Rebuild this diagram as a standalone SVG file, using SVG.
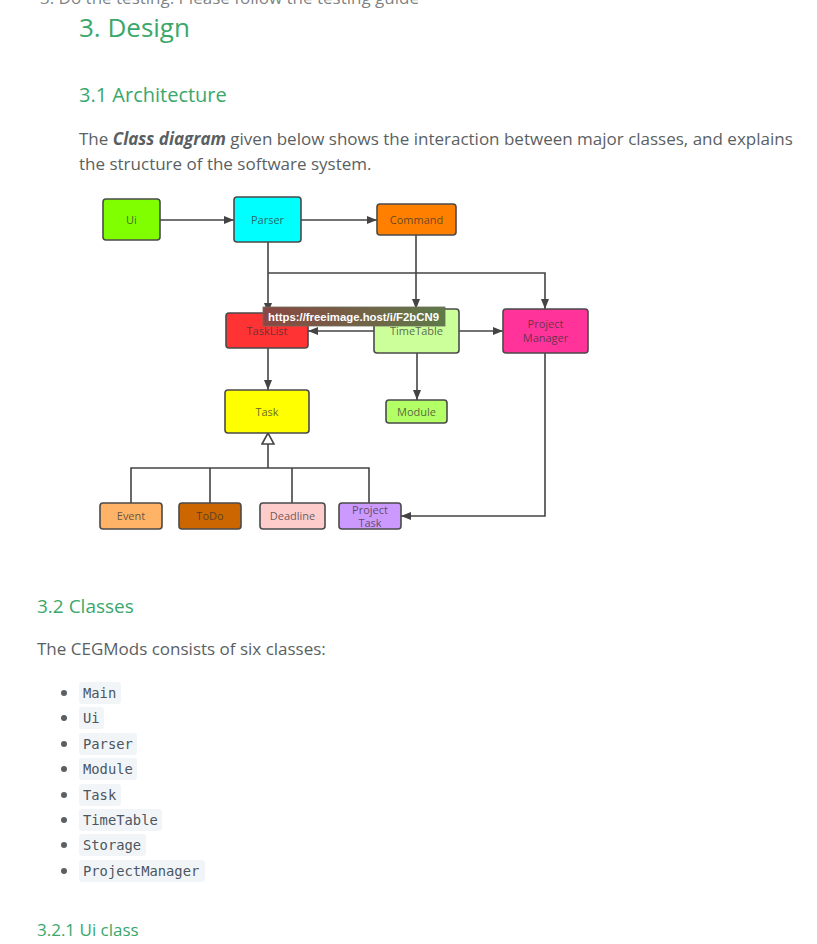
<svg xmlns="http://www.w3.org/2000/svg" width="817" height="944" viewBox="0 0 817 944">
<defs>
<style>
.h{font-family:"Open Sans","Noto Sans",sans-serif;fill:#3aa76b}
.p{font-family:"Open Sans","Noto Sans",sans-serif;fill:#5a5f63;font-size:17px}
.n rect{stroke:#4a4a4a;stroke-width:1.6}
.n text{font-family:"Open Sans","Noto Sans",sans-serif;font-size:11px;fill:#333;fill-opacity:0.75;text-anchor:middle}
.c{fill:none;stroke:#444;stroke-width:1.6}
.code rect{fill:#f2f5f8}
.code text{font-family:"DejaVu Sans Mono","Liberation Mono",monospace;font-size:13.8px;fill:#4c5660}
.b{fill:#5a5f63}
</style>
<marker id="ar" viewBox="0 0 10 10" refX="10" refY="5" markerWidth="10" markerHeight="10" markerUnits="userSpaceOnUse" orient="auto">
<path d="M0,1 L10,5 L0,9 Z" fill="#444"/>
</marker>
<marker id="tri" viewBox="0 0 12 14" refX="12" refY="7" markerWidth="12" markerHeight="14" markerUnits="userSpaceOnUse" orient="auto">
<path d="M1,1 L12,7 L1,13 Z" fill="#fff" stroke="#444" stroke-width="1.6"/>
</marker>
<linearGradient id="tip" x1="0" y1="0" x2="1" y2="0">
<stop offset="0" stop-color="#8a4743"/>
<stop offset="1" stop-color="#5e7b48"/>
</linearGradient>
</defs>
<rect width="817" height="944" fill="#fff"/>
<text class="p" x="40" y="4" fill-opacity="0.8">3. Do the testing. Please follow the testing guide</text>
<text class="h" x="79" y="37" font-size="26">3. Design</text>
<text class="h" x="79" y="102" font-size="20">3.1 Architecture</text>
<text class="p" x="79" y="145">The <tspan font-weight="bold" font-style="italic">Class diagram</tspan> given below shows the interaction between major classes, and explains</text>
<text class="p" x="79" y="170">the structure of the software system.</text>

<g id="connectors">
<path class="c" d="M160,220 H234" marker-end="url(#ar)"/>
<path class="c" d="M301,220 H377" marker-end="url(#ar)"/>
<path class="c" d="M268,242 V313" marker-end="url(#ar)"/>
<path class="c" d="M268,273 H545 V309" marker-end="url(#ar)"/>
<path class="c" d="M416,235 V309" marker-end="url(#ar)"/>
<path class="c" d="M374,331 H308" marker-end="url(#ar)"/>
<path class="c" d="M459,331 H503" marker-end="url(#ar)"/>
<path class="c" d="M268,348 V390" marker-end="url(#ar)"/>
<path class="c" d="M417,353 V400" marker-end="url(#ar)"/>
<path class="c" d="M545,353 V516 H401" marker-end="url(#ar)"/>
<path class="c" d="M131,503 V468 H369 V503 M210,468 V503 M292,468 V503"/>
<path class="c" d="M268,468 V433" marker-end="url(#tri)"/>
</g>

<g id="Ui" class="n"><rect x="103" y="199" width="57" height="41" rx="3" fill="#80ff00"/><text x="131.5" y="224">Ui</text></g>
<g id="Parser" class="n"><rect x="234" y="197" width="67" height="45" rx="3" fill="#00ffff"/><text x="267.5" y="224">Parser</text></g>
<g id="Command" class="n"><rect x="377" y="204" width="79" height="31" rx="3" fill="#ff8000"/><text x="416.5" y="224">Command</text></g>
<g id="TaskList" class="n"><rect x="226" y="313" width="82" height="35" rx="3" fill="#ff3333"/><text x="267" y="335">TaskList</text></g>
<g id="TimeTable" class="n"><rect x="374" y="309" width="85" height="44" rx="3" fill="#ccff99"/><text x="416.5" y="335">TimeTable</text></g>
<g id="ProjectManager" class="n"><rect x="503" y="309" width="85" height="44" rx="3" fill="#ff3399"/><text x="545.5" y="328">Project</text><text x="545.5" y="342">Manager</text></g>
<g id="Task" class="n"><rect x="225" y="390" width="84" height="43" rx="3" fill="#ffff00"/><text x="267" y="416">Task</text></g>
<g id="Module" class="n"><rect x="386" y="400" width="61" height="23" rx="3" fill="#b3ff66"/><text x="416.5" y="416">Module</text></g>
<g id="Event" class="n"><rect x="100" y="503" width="62" height="26" rx="3" fill="#ffb366"/><text x="131" y="520">Event</text></g>
<g id="ToDo" class="n"><rect x="179" y="503" width="62" height="26" rx="3" fill="#cc6600"/><text x="210" y="520">ToDo</text></g>
<g id="Deadline" class="n"><rect x="260" y="503" width="65" height="26" rx="3" fill="#ffcccc"/><text x="292.5" y="520">Deadline</text></g>
<g id="ProjectTask" class="n"><rect x="339" y="503" width="62" height="26" rx="3" fill="#cc99ff"/><text x="370" y="514">Project</text><text x="370" y="527">Task</text></g>

<g id="tooltip">
<rect x="263" y="307" width="182" height="19" fill="url(#tip)" stroke="#6d6d5a" stroke-width="0.8"/>
<text x="268" y="321" font-family="'Liberation Sans',Arial,sans-serif" font-size="11.5" font-weight="bold" fill="#fff" textLength="171" lengthAdjust="spacingAndGlyphs">https://freeimage.host/i/F2bCN9</text>
</g>

<text class="h" x="37" y="613" font-size="19">3.2 Classes</text>
<text class="p" x="37" y="655">The CEGMods consists of six classes:</text>

<g class="code">
<circle class="b" cx="64" cy="693" r="3"/><rect x="79" y="682" width="42" height="22" rx="3"/><text x="83" y="698">Main</text>
<circle class="b" cx="64" cy="718" r="3"/><rect x="79" y="707" width="25" height="22" rx="3"/><text x="83" y="723">Ui</text>
<circle class="b" cx="64" cy="744" r="3"/><rect x="79" y="733" width="58" height="22" rx="3"/><text x="83" y="749">Parser</text>
<circle class="b" cx="64" cy="769" r="3"/><rect x="79" y="758" width="58" height="22" rx="3"/><text x="83" y="774">Module</text>
<circle class="b" cx="64" cy="795" r="3"/><rect x="79" y="784" width="42" height="22" rx="3"/><text x="83" y="800">Task</text>
<circle class="b" cx="64" cy="820" r="3"/><rect x="79" y="809" width="83" height="22" rx="3"/><text x="83" y="825">TimeTable</text>
<circle class="b" cx="64" cy="845" r="3"/><rect x="79" y="834" width="67" height="22" rx="3"/><text x="83" y="850">Storage</text>
<circle class="b" cx="64" cy="871" r="3"/><rect x="79" y="860" width="126" height="22" rx="3"/><text x="83" y="876">ProjectManager</text>
</g>

<text class="h" x="37" y="936" font-size="17">3.2.1 Ui class</text>
</svg>
